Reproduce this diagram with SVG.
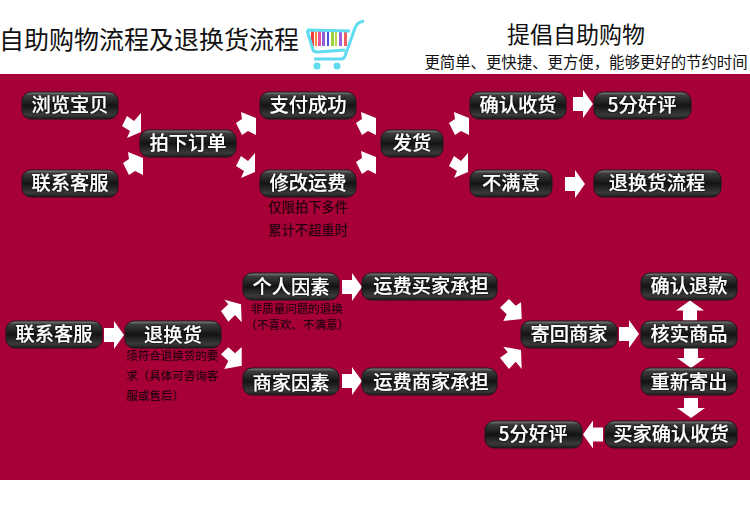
<svg xmlns="http://www.w3.org/2000/svg" width="750" height="526" viewBox="0 0 750 526">
<style>
text{font-family:"Noto Sans CJK SC","Noto Sans",sans-serif;text-anchor:middle}
.n text{font-size:19.300px;font-weight:500;fill:#fff;filter:url(#sh)}
.n rect{fill:url(#g);stroke:#1a1a1a;stroke-width:1}
.a{fill:#fff}
.s{font-size:11.500px;font-weight:500;fill:#2a0010}
.b{font-size:13.300px}
.t{fill:#111}
.c{fill:none;stroke:#5fdcf0;stroke-width:3}
</style>
<defs>
<linearGradient id="g" x1="0" y1="0" x2="0" y2="1">
<stop offset="0" stop-color="#8a8a8a"/><stop offset=".12" stop-color="#3c3c3c"/><stop offset=".5" stop-color="#141414"/><stop offset=".85" stop-color="#3a3a3a"/><stop offset="1" stop-color="#1c1c1c"/>
</linearGradient>
<filter id="sh" x="-10%" y="-20%" width="120%" height="140%"><feDropShadow dx="0" dy="0" stdDeviation="0.8" flood-color="#000"/></filter>
<polygon id="h" points="-10,-7 0,-7 0,-14 10,0 0,14 0,7 -10,7"/>
<polygon id="d" points="0,0 0,19 -14,25 -11,18 -19,13 -14,3 -7,8"/>
<polygon id="u" points="0,0 0,-17 -15,-23 -14,-16 -20,-12 -14,0 -8,-4"/>
</defs>
<rect width="750" height="526" fill="#fff"/>
<rect y="74" width="750" height="406" fill="#a70037"/>

<g id="header">
<text class="t" x="149" y="49" font-size="25">自助购物流程及退换货流程</text>
<text class="t" x="576" y="43" font-size="23">提倡自助购物</text>
<text class="t" x="586" y="68" font-size="15.400">更简单、更快捷、更方便，能够更好的节约时间</text>
</g>
<g id="cart">
<rect x="311" y="31" width="3" height="15" fill="#ef3b3b"/><rect x="315" y="31" width="2" height="15" fill="#f08a3c"/><rect x="318" y="31" width="3" height="15" fill="#e8509a"/><rect x="322" y="31" width="3" height="15" fill="#8a5fd8"/><rect x="327" y="31" width="2" height="15" fill="#4a50e0"/><rect x="331" y="31" width="3" height="15" fill="#9fd040"/><rect x="335" y="31" width="2" height="15" fill="#b8d848"/><rect x="339" y="31" width="3" height="15" fill="#a060d8"/><rect x="344" y="31" width="3" height="15" fill="#f06060"/>
<path class="c" d="M307 30L350 31M307 30L313 50Q314 52 318 52L345 50M364 21Q357 22 355 28L345 56Q344 59 341 59L314 59"/>
<circle cx="317" cy="66" r="3.500" fill="#5fdcf0"/><circle cx="337" cy="66" r="3.500" fill="#5fdcf0"/>
</g>

<g id="connectors" class="a">
<use href="#d" x="141" y="113"/>
<use href="#u" x="143" y="175"/>
<use href="#u" x="256" y="135"/>
<use href="#d" x="255" y="153"/>
<use href="#u" x="376" y="135"/>
<use href="#u" x="376" y="174"/>
<use href="#u" x="469" y="135"/>
<use href="#d" x="468" y="153"/>
<use href="#h" transform="translate(583,104)"/>
<use href="#h" transform="translate(575,184)"/>
<use href="#h" transform="translate(114,335)"/>
<use href="#h" transform="translate(352,287)"/>
<use href="#h" transform="translate(352,381)"/>
<use href="#h" transform="translate(629,334)"/>
<use href="#h" transform="translate(690,310.500) rotate(-90)"/>
<use href="#h" transform="translate(691,358) rotate(90)"/>
<use href="#h" transform="translate(691,408) rotate(90)"/>
<use href="#h" transform="translate(593,434.500) rotate(180)"/>
<polygon points="224.300,299.700 241,304.300 241.700,322.300 235,315 228.300,321.700 221,311 228.300,304.300"/>
<polygon points="241.700,347 241.700,365.700 224.300,369 228.300,361 221,354.300 228.300,347.300 235,353.300"/>
<polygon points="509,299 515.700,305.700 521,302.300 521.700,319 503.300,321 506.700,314.300 500,307.700"/>
<polygon points="503.300,346.700 521,350 521.700,369 515.700,361.700 509,369 500,357.700 507.700,352.300"/>
</g>

<g class="n" id="n1"><rect x="22" y="92" width="96" height="27" rx="9"/><text x="70" y="112">浏览宝贝</text></g>
<g class="n" id="n2"><rect x="22" y="170" width="96" height="27" rx="9"/><text x="70" y="190">联系客服</text></g>
<g class="n" id="n3"><rect x="140" y="130" width="96" height="27" rx="9"/><text x="188" y="150">拍下订单</text></g>
<g class="n" id="n4"><rect x="260" y="92" width="96" height="27" rx="9"/><text x="308" y="112">支付成功</text></g>
<g class="n" id="n5"><rect x="260" y="170" width="96" height="27" rx="9"/><text x="308" y="190">修改运费</text></g>
<g class="n" id="n6"><rect x="381" y="130" width="62" height="27" rx="9"/><text x="412" y="150">发货</text></g>
<g class="n" id="n7"><rect x="470" y="92" width="96" height="27" rx="9"/><text x="518" y="112">确认收货</text></g>
<g class="n" id="n8"><rect x="594" y="92" width="97" height="27" rx="9"/><text x="642" y="112">5分好评</text></g>
<g class="n" id="n9"><rect x="470" y="170" width="82" height="27" rx="9"/><text x="511" y="190">不满意</text></g>
<g class="n" id="n10"><rect x="594" y="170" width="127" height="27" rx="9"/><text x="657" y="190">退换货流程</text></g>
<g class="n" id="n11"><rect x="6" y="321" width="96" height="27" rx="9"/><text x="54" y="341">联系客服</text></g>
<g class="n" id="n12"><rect x="125" y="321" width="96" height="27" rx="9"/><text x="173" y="342">退换货</text></g>
<g class="n" id="n13"><rect x="243" y="273" width="96" height="27" rx="9"/><text x="291" y="294">个人因素</text></g>
<g class="n" id="n14"><rect x="243" y="368" width="96" height="27" rx="9"/><text x="291" y="390">商家因素</text></g>
<g class="n" id="n15"><rect x="362" y="273" width="135" height="27" rx="9"/><text x="431" y="293">运费买家承担</text></g>
<g class="n" id="n16"><rect x="362" y="368" width="135" height="27" rx="9"/><text x="431" y="389">运费商家承担</text></g>
<g class="n" id="n17"><rect x="521" y="321" width="96" height="27" rx="9"/><text x="569" y="341">寄回商家</text></g>
<g class="n" id="n18"><rect x="641" y="273" width="96" height="27" rx="9"/><text x="689" y="293">确认退款</text></g>
<g class="n" id="n19"><rect x="641" y="321" width="96" height="27" rx="9"/><text x="689" y="341">核实商品</text></g>
<g class="n" id="n20"><rect x="641" y="368" width="96" height="27" rx="9"/><text x="689" y="389">重新寄出</text></g>
<g class="n" id="n21"><rect x="605" y="421" width="132" height="27" rx="9"/><text x="671" y="441">买家确认收货</text></g>
<g class="n" id="n22"><rect x="485" y="421" width="97" height="27" rx="9"/><text x="533" y="441">5分好评</text></g>

<g id="notes">
<text class="s b" x="308" y="212">仅限拍下多件</text>
<text class="s b" x="308" y="235">累计不超重时</text>
<text class="s" x="296.500" y="313">非质量问题的退换</text>
<text class="s" x="297" y="329">（不喜欢、不满意）</text>
<text class="s" x="172" y="359.500">须符合退换货的要</text>
<text class="s" x="172" y="379.500">求（具体可咨询客</text>
<text class="s" x="155" y="399.500">服或售后）</text>
</g>
</svg>
